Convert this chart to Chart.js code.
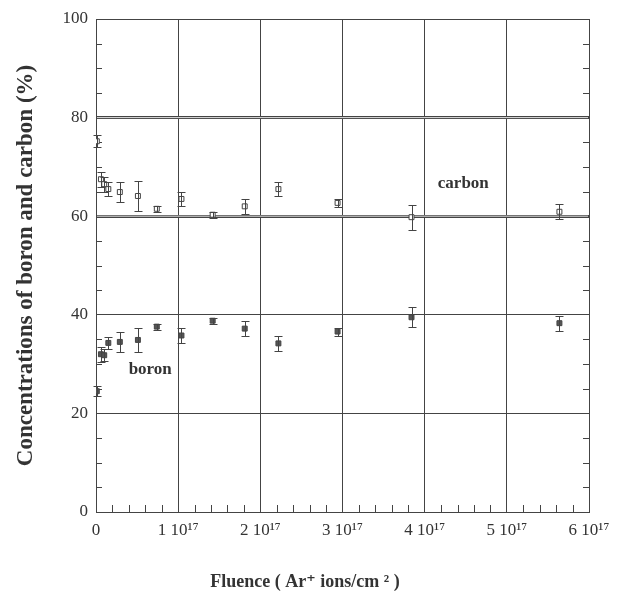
<!DOCTYPE html>
<html>
<head>
<meta charset="utf-8">
<script src="https://cdn.jsdelivr.net/npm/chart.js@4/dist/chart.umd.min.js"></script>
<style>
  body { margin: 0; background: #fff; }
</style>
</head>
<body>
<canvas id="myChart" width="626" height="596"></canvas>
<script>
// fluence in units of 10^17 Ar+ ions/cm2
var fluence = [0.01, 0.06, 0.10, 0.15, 0.29, 0.51, 0.74, 1.04, 1.42, 1.81, 2.22, 2.94, 3.84, 5.64];
var carbon = [75.2, 67.5, 66.5, 65.5, 64.9, 64.1, 61.5, 63.5, 60.3, 62.0, 65.5, 62.7, 59.8, 60.9];
var carbonErr = [1.2, 1.5, 1.5, 1.5, 2.0, 3.0, 0.6, 1.5, 0.6, 1.5, 1.5, 0.8, 2.5, 1.5];
var boron = [24.5, 32.0, 31.8, 34.3, 34.5, 34.9, 37.6, 35.8, 38.8, 37.2, 34.2, 36.6, 39.5, 38.3];
var boronErr = [1.0, 1.5, 1.2, 1.2, 2.0, 2.5, 0.6, 1.6, 0.6, 1.5, 1.5, 0.8, 2.0, 1.5];
var xTickLabels = ['0', '1 10\u00B9\u2077', '2 10\u00B9\u2077', '3 10\u00B9\u2077', '4 10\u00B9\u2077', '5 10\u00B9\u2077', '6 10\u00B9\u2077'];
var doubleLines = [60, 80];

var serif = '"Liberation Serif", "DejaVu Serif", serif';
var ink = '#333';

function pts(ys) {
  var a = [];
  for (var i = 0; i < fluence.length; i++) a.push({x: fluence[i], y: ys[i]});
  return a;
}

var errBars = {
  id: 'errBars',
  afterDatasetsDraw: function(chart) {
    var ctx = chart.ctx, xs = chart.scales.x, ys = chart.scales.y;
    var errs = [carbonErr, boronErr];
    ctx.save();
    ctx.strokeStyle = '#444';
    ctx.lineWidth = 1;
    chart.data.datasets.forEach(function(ds, d) {
      ds.data.forEach(function(p, i) {
        var px = Math.round(xs.getPixelForValue(p.x)) + 0.5;
        var t = Math.round(ys.getPixelForValue(p.y + errs[d][i])) + 0.5;
        var b = Math.round(ys.getPixelForValue(p.y - errs[d][i])) + 0.5;
        ctx.beginPath();
        ctx.moveTo(px, t); ctx.lineTo(px, b);
        ctx.moveTo(px - 4, t); ctx.lineTo(px + 4, t);
        ctx.moveTo(px - 4, b); ctx.lineTo(px + 4, b);
        ctx.stroke();
      });
    });
    ctx.restore();
  }
};

var extras = {
  id: 'extras',
  beforeDatasetsDraw: function(chart) {
    var ctx = chart.ctx, xs = chart.scales.x, ys = chart.scales.y, a = chart.chartArea;
    ctx.save();
    // light gap inside the doubled grid lines
    ctx.strokeStyle = '#e0e0e0';
    ctx.lineWidth = 1;
    doubleLines.forEach(function(v) {
      var py = ys.getPixelForValue(v);
      ctx.beginPath();
      ctx.moveTo(a.left + 1, py); ctx.lineTo(a.right - 1, py);
      ctx.stroke();
    });
    // minor ticks
    ctx.strokeStyle = '#444';
    ctx.beginPath();
    for (var v = 5; v < 100; v += 5) {
      if (v % 20 === 0) continue;
      var py = Math.round(ys.getPixelForValue(v)) + 0.5;
      ctx.moveTo(a.left, py); ctx.lineTo(a.left + 6, py);
      ctx.moveTo(a.right, py); ctx.lineTo(a.right - 6, py);
    }
    for (var k = 1; k < 30; k++) {
      if (k % 5 === 0) continue;
      var px = Math.round(xs.getPixelForValue(k * 0.2)) + 0.5;
      ctx.moveTo(px, a.bottom); ctx.lineTo(px, a.bottom - 7);
    }
    ctx.stroke();
    ctx.restore();
  },
  afterDraw: function(chart) {
    var ctx = chart.ctx, xs = chart.scales.x, ys = chart.scales.y;
    ctx.save();
    ctx.fillStyle = ink;
    ctx.font = 'bold 17px ' + serif;
    ctx.textAlign = 'center';
    ctx.textBaseline = 'middle';
    ctx.fillText('carbon', xs.getPixelForValue(4.47), ys.getPixelForValue(66.7));
    ctx.fillText('boron', xs.getPixelForValue(0.66), ys.getPixelForValue(28.8));
    // x axis title, a little left of the plot centre as in the original
    ctx.font = 'bold 18px ' + serif;
    ctx.fillText('Fluence ( Ar\u207A ions/cm \u00B2 )', 305, 582);
    ctx.restore();
  }
};

var ctx = document.getElementById('myChart').getContext('2d');

var myChart = new Chart(ctx, {
  type: 'scatter',
  data: {
    datasets: [
      {
        label: 'carbon',
        data: pts(carbon),
        pointStyle: 'rect',
        pointRadius: 3.5,
        backgroundColor: '#fff',
        borderColor: '#444',
        borderWidth: 1
      },
      {
        label: 'boron',
        data: pts(boron),
        pointStyle: 'rect',
        pointRadius: 3.5,
        backgroundColor: '#555',
        borderColor: '#444',
        borderWidth: 1
      }
    ]
  },
  options: {
    responsive: false,
    animation: false,
    layout: { padding: { top: 19, right: 37, left: 0, bottom: 0 } },
    plugins: { legend: { display: false }, tooltip: { enabled: false } },
    scales: {
      x: {
        type: 'linear',
        min: 0, max: 6,
        afterFit: function(s) { s.height = 84; },
        ticks: {
          stepSize: 1,
          padding: 8,
          color: ink,
          font: { family: serif, size: 17 },
          maxRotation: 0,
          callback: function(v) { return xTickLabels[Math.round(v)]; }
        },
        grid: { color: '#444', lineWidth: 1, drawTicks: false },
        border: { color: '#444' }
      },
      y: {
        min: 0, max: 100,
        afterFit: function(s) { s.width = 96; },
        ticks: {
          stepSize: 20,
          padding: 8,
          color: ink,
          font: { family: serif, size: 17 }
        },
        grid: {
          color: '#444',
          drawTicks: false,
          lineWidth: function(c) { return doubleLines.indexOf(c.tick && c.tick.value) >= 0 ? 3 : 1; }
        },
        border: { color: '#444' },
        title: {
          display: true,
          text: 'Concentrations of boron and carbon (%)',
          color: ink,
          font: { family: serif, size: 23, weight: 'bold' },
          padding: { top: 12, bottom: 0 }
        }
      }
    }
  },
  plugins: [errBars, extras]
});
</script>
</body>
</html>
